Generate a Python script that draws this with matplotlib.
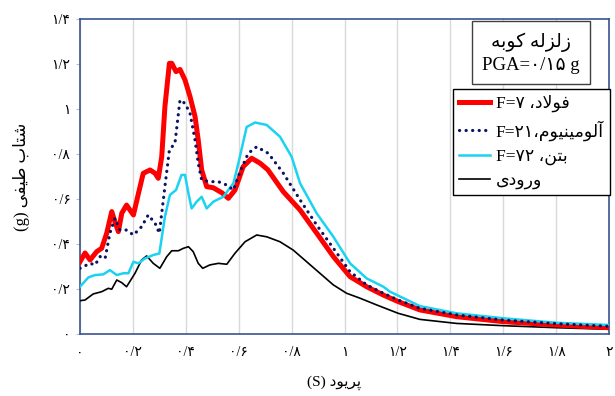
import matplotlib
matplotlib.use("Agg")
import matplotlib.pyplot as plt

# Spectral acceleration vs. period, Kobe record
steel_x = [0, .019, .038, .063, .082, .101, .12, .132, .145, .158, .176, .202, .221, .239, .265,
           .284, .296, .309, .321, .338, .347, .363, .378, .397, .416, .435, .447, .46, .479, .504,
           .536, .561, .586, .617, .649, .681, .71, .769, .832, .895, .958, 1.021, 1.084, 1.147,
           1.203, 1.285, 1.424, 1.6, 1.8, 2.0]
steel_y = [.321, .36, .329, .366, .381, .448, .544, .499, .455, .537, .573, .529, .625, .714, .729,
           .714, .692, .788, 1.01, 1.203, 1.203, 1.166, 1.176, 1.129, 1.055, .966, .862, .729, .655, .65,
           .628, .603, .64, .744, .781, .759, .73, .632, .551, .448, .344, .255, .21, .173,
           .144, .107, .077, .055, .04, .028]

alum_x = [0, .038, .057, .076, .095, .113, .132, .151, .176, .202, .233, .258, .284, .3, .321,
          .338, .359, .378, .397, .416, .435, .447, .46, .491, .523, .555, .58, .605, .636, .668,
          .712, .769, .832, .895, .958, 1.021, 1.084, 1.147, 1.203, 1.285, 1.424, 1.6, 1.8, 2.0]
alum_y = [.292, .314, .307, .344, .336, .448, .514, .462, .462, .44, .477, .529, .492, .448, .655,
          .818, .848, 1.04, 1.025, .981, .862, .759, .684, .677, .677, .662, .64, .721, .803, .832,
          .803, .714, .596, .484, .381, .277, .218, .181, .151, .114, .085, .062, .046, .034]

conc_x = [0, .032, .057, .088, .113, .139, .164, .183, .202, .221, .246, .277, .3, .321, .34,
          .363, .384, .397, .41, .422, .441, .46, .479, .504, .542, .58, .599, .63, .662, .706,
          .756, .8, .832, .895, .958, 1.021, 1.084, 1.147, 1.172, 1.285, 1.424, 1.6, 1.8, 2.0]
conc_y = [.21, .252, .262, .265, .284, .262, .27, .27, .321, .314, .336, .351, .358, .521, .618,
          .64, .707, .707, .625, .558, .588, .61, .558, .588, .61, .67, .76, .92, .94, .929,
          .877, .788, .67, .536, .432, .314, .247, .21, .188, .124, .092, .07, .05, .04]

input_x = [0, .019, .05, .082, .107, .12, .139, .158, .176, .208, .233, .252, .277, .302, .328,
           .347, .372, .391, .41, .428, .447, .464, .491, .523, .555, .586, .624, .668, .706, .756,
           .806, .857, .907, .958, 1.008, 1.059, 1.122, 1.203, 1.285, 1.424, 1.6, 1.8, 2.0]
input_y = [.148, .151, .178, .188, .203, .199, .24, .228, .21, .27, .329, .347, .314, .292, .344,
           .37, .37, .381, .388, .366, .314, .292, .307, .314, .31, .359, .41, .44, .432, .41,
           .373, .321, .27, .218, .181, .159, .129, .092, .065, .047, .037, .028, .021]

x_ticks = [0, .2, .4, .6, .8, 1, 1.2, 1.4, 1.6, 1.8, 2]
x_tick_labels = ["۰", "۰/۲", "۰/۴", "۰/۶", "۰/۸", "۱", "۱/۲", "۱/۴", "۱/۶", "۱/۸", "۲"]
y_ticks = [0, .2, .4, .6, .8, 1, 1.2, 1.4]
y_tick_labels = ["۰", "۰/۲", "۰/۴", "۰/۶", "۰/۸", "۱", "۱/۲", "۱/۴"]

# matplotlib does no Arabic shaping, so labels are written with
# presentation forms in left-to-right visual order
label_steel = "F=\u06F7 \u060C\uFEA9\uFEFB\uFEEE\uFED3"
label_alum = "F=\u06F2\u06F1\u060C\uFEE1\uFEEE\uFBFF\uFEE8\uFBFF\uFEE3\uFEEE\uFEDF\uFE81"
label_conc = "F=\u06F7\u06F2 \u060C\uFEE6\uFE98\uFE91"
label_input = "\uFBFC\uFEA9\uFEED\uFEAD\uFEED"
title_line = "\uFEEA\uFE91\uFEEE\uFB90 \uFEEA\uFEDF\uFEB0\uFEDF\uFEAF"
pga_line = "PGA=\u06F0/\u06F1\u06F5 g"
x_title = "(S) \uFEA9\uFEEE\uFBFE\uFEAE\uFB58"
y_title = "(g) \uFBFD\uFED4\uFBFF\uFEC3 \uFE8F\uFE8E\uFE98\uFEB7"

plt.rcParams["font.family"] = ["Liberation Serif", "DejaVu Sans"]

fig = plt.figure(figsize=(6.15, 3.96), dpi=100)
ax = fig.add_axes([80 / 615, 1 - 334 / 396, 529 / 615, 315 / 396])

ax.plot(input_x, input_y, color="black", lw=1.2, label=label_input, zorder=3)
ax.plot(steel_x, steel_y, color="#ff0000", lw=3.6, label=label_steel, zorder=4)
ax.plot(conc_x, conc_y, color="#1ad3f2", lw=1.8, label=label_conc, zorder=5)
ax.plot(alum_x, alum_y, color="#0b1463", lw=2.3, linestyle=(0, (0.05, 2.0)),
        dash_capstyle="round", label=label_alum, zorder=6)

ax.set_xlim(0, 2)
ax.set_ylim(0, 1.4)
ax.set_xticks(x_ticks)
ax.set_xticklabels(x_tick_labels, fontsize=10)
ax.set_yticks(y_ticks)
ax.set_yticklabels(y_tick_labels, fontsize=10)
ax.tick_params(axis="x", length=0, pad=9)
ax.tick_params(axis="y", length=3, color="#bfbfbf", pad=4)
ax.grid(axis="x", color="#d9d9d9", lw=1)
for s in ax.spines.values():
    s.set_color("#3a5390")
    s.set_linewidth(1.2)

ax.set_xlabel(x_title, fontsize=11)
ax.xaxis.set_label_coords(0.48, -0.13)
ax.set_ylabel(y_title, fontsize=12)
ax.yaxis.set_label_coords(-0.095, 0.5)

handles, labels = ax.get_legend_handles_labels()
order = [1, 3, 2, 0]
leg = ax.legend([handles[i] for i in order], [labels[i] for i in order],
                loc="upper left", bbox_to_anchor=(453 / 615, 1 - 89 / 396),
                bbox_transform=fig.transFigure, borderaxespad=0, fancybox=False,
                edgecolor="black", framealpha=1, fontsize=12.5, handlelength=1.8,
                labelspacing=0.45, handletextpad=0.3, borderpad=0.35)
leg.get_frame().set_linewidth(1.0)

fig.text(531 / 615, 1 - 53 / 396, title_line + "\n" + pga_line, ha="center", va="center",
         fontsize=13.5, linespacing=1.4,
         bbox=dict(boxstyle="square,pad=0.55", fc="white", ec="#404040", lw=1.0))

fig.savefig("out.png", dpi=100)
